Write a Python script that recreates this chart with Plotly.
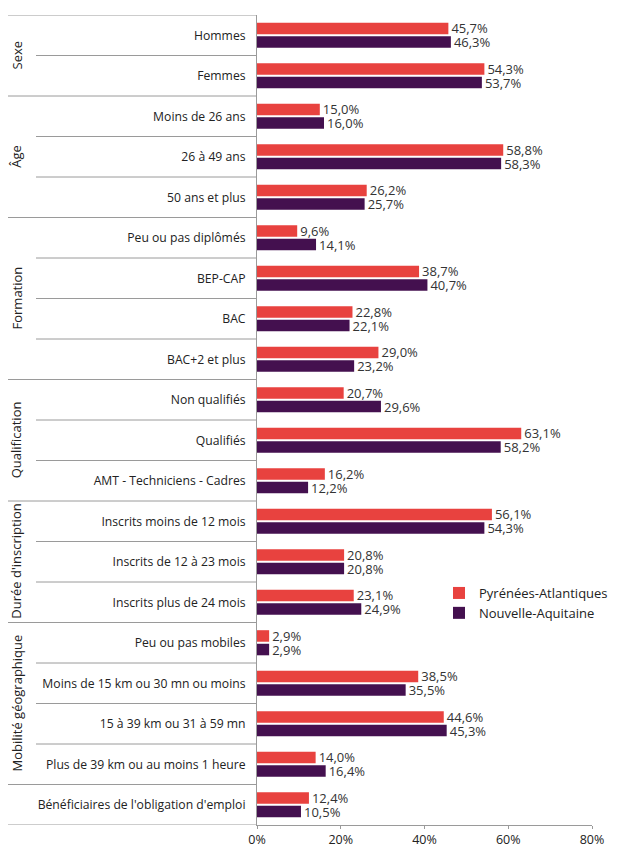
import plotly.graph_objects as go

categories = [
    "Hommes", "Femmes",
    "Moins de 26 ans", "26 à 49 ans", "50 ans et plus",
    "Peu ou pas diplômés", "BEP-CAP", "BAC", "BAC+2 et plus",
    "Non qualifiés", "Qualifiés", "AMT - Techniciens - Cadres",
    "Inscrits moins de 12 mois", "Inscrits de 12 à 23 mois", "Inscrits plus de 24 mois",
    "Peu ou pas mobiles", "Moins de 15 km ou 30 mn ou moins", "15 à 39 km ou 31 à 59 mn",
    "Plus de 39 km ou au moins 1 heure",
    "Bénéficiaires de l'obligation d'emploi",
]
pyrenees = [45.7, 54.3, 15.0, 58.8, 26.2, 9.6, 38.7, 22.8, 29.0, 20.7, 63.1, 16.2,
            56.1, 20.8, 23.1, 2.9, 38.5, 44.6, 14.0, 12.4]
nouvelle = [46.3, 53.7, 16.0, 58.3, 25.7, 14.1, 40.7, 22.1, 23.2, 29.6, 58.2, 12.2,
            54.3, 20.8, 24.9, 2.9, 35.5, 45.3, 16.4, 10.5]
groups = [("Sexe", 0, 1), ("Âge", 2, 4), ("Formation", 5, 8), ("Qualification", 9, 11),
          ("Durée d'inscription", 12, 14), ("Mobilité géographique", 15, 18), ("", 19, 19)]
series_names = ["Pyrénées-Atlantiques", "Nouvelle-Aquitaine"]
x_ticks = [0, 20, 40, 60, 80]
x_tick_labels = ["0%", "20%", "40%", "60%", "80%"]

RED = "#E8423F"
PURPLE = "#44104F"
GRAY = "#9a9a9a"
FONT = "Open Sans"

def fmt(v):
    return f"{v:.1f}%".replace(".", ",")

ypos = list(range(len(categories)))

fig = go.Figure()
for name, vals, col in [(series_names[0], pyrenees, RED), (series_names[1], nouvelle, PURPLE)]:
    fig.add_trace(go.Bar(
        y=ypos, x=vals, orientation="h", name=name, legendgroup=name,
        marker=dict(color=col, line=dict(width=0)),
        text=[fmt(v) for v in vals], textposition="outside",
        constraintext="none",
        textfont=dict(size=13, color="#333333", family=FONT),
        cliponaxis=False,
    ))

# page body has an 8px margin: figure drawn at (8, 8) in the window
OFF = 8
W, H = 625 - OFF, 848 - OFF
ml, mr, mt, mb = 257 - OFF, 33, 15 - OFF, 23
pw = W - ml - mr
ph = H - mt - mb

def px2paper(px):
    return (px - OFF - ml) / pw

def py2paper(py):
    return (H - mb - (py - OFF)) / ph

shapes = []
for yb in [-0.5, len(categories) - 0.5]:
    shapes.append(dict(type="line", xref="paper", yref="y", x0=px2paper(8), x1=0,
                       y0=yb, y1=yb, line=dict(color=GRAY, width=1)))
group_bounds = set(g[2] for g in groups)
for i in range(len(categories) - 1):
    x0 = px2paper(8) if i in group_bounds else px2paper(36)
    shapes.append(dict(type="line", xref="paper", yref="y", x0=x0, x1=0,
                       y0=i + 0.5, y1=i + 0.5, line=dict(color=GRAY, width=1)))

annotations = []
for name, a, b in groups:
    if name:
        annotations.append(dict(text=name, xref="paper", yref="y", x=px2paper(16),
                                y=(a + b) / 2, textangle=-90, showarrow=False,
                                xanchor="center", yanchor="middle",
                                font=dict(size=13, color="#222222", family=FONT)))

fig.update_layout(
    width=W, height=H,
    margin=dict(l=ml, r=mr, t=mt, b=mb, autoexpand=False),
    paper_bgcolor="white", plot_bgcolor="white",
    barmode="group", bargap=0.33, bargroupgap=0.15,
    font=dict(family=FONT, size=13, color="#222222"),
    showlegend=True,
    legend=dict(x=px2paper(439), y=py2paper(578), xanchor="left", yanchor="top",
                font=dict(size=13, color="#222222", family=FONT), bgcolor="rgba(0,0,0,0)",
                itemwidth=30, tracegroupgap=8, traceorder="normal"),
    xaxis=dict(range=[0, 80], tickvals=x_ticks, ticktext=x_tick_labels, showgrid=False,
               zeroline=False, showline=True, linecolor=GRAY, linewidth=1,
               ticks="outside", ticklen=3, tickcolor=GRAY, automargin=False,
               tickfont=dict(size=12.5, color="#222222", family=FONT)),
    yaxis=dict(range=[len(categories) - 0.5, -0.5], tickvals=ypos, ticktext=categories,
               showgrid=False, zeroline=False, showline=True, linecolor=GRAY, linewidth=1,
               ticks="", ticklabelstandoff=8, automargin=False,
               tickfont=dict(size=12.2, color="#222222", family=FONT)),
    shapes=shapes, annotations=annotations,
)

fig.write_html("out.html")
